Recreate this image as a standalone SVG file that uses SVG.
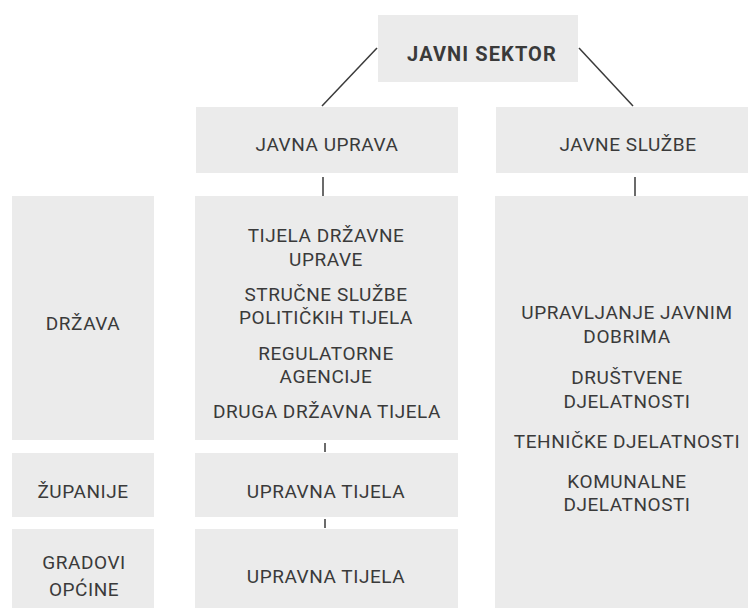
<svg xmlns="http://www.w3.org/2000/svg" width="750" height="608" viewBox="0 0 750 608">
<style>
rect.box{fill:#ebebeb}
text{font-family:Roboto,"Liberation Sans",sans-serif;font-size:19px;letter-spacing:0.55px;fill:#3a3a3a;text-anchor:middle}
text.b{font-weight:bold;font-size:20px;letter-spacing:1.1px}
.conn line{stroke:#3a3a3a;stroke-width:1.5}
</style>
<rect width="750" height="608" fill="#ffffff"/>
<g class="conn" id="connectors">
<line x1="377" y1="48" x2="322" y2="106"/>
<line x1="579" y1="48" x2="633" y2="106"/>
<line x1="323" y1="177" x2="323" y2="197"/>
<line x1="635" y1="177" x2="635" y2="197"/>
<line x1="325" y1="443" x2="325" y2="452"/>
<line x1="325" y1="519" x2="325" y2="528"/>
</g>
<g id="javni-sektor"><rect class="box" x="378" y="15" width="200" height="67"/><text class="b" x="482" y="61">JAVNI SEKTOR</text></g>
<g id="javna-uprava"><rect class="box" x="196" y="107" width="262" height="66"/><text x="327" y="151">JAVNA UPRAVA</text></g>
<g id="javne-sluzbe"><rect class="box" x="496" y="107" width="252" height="66"/><text x="628" y="151">JAVNE SLUŽBE</text></g>
<g id="drzava"><rect class="box" x="12" y="196" width="142" height="244"/><text x="83" y="330">DRŽAVA</text></g>
<g id="drzava-tijela"><rect class="box" x="195" y="196" width="263" height="244"/>
<text x="326" y="242">TIJELA DRŽAVNE</text>
<text x="326" y="266">UPRAVE</text>
<text x="326" y="301">STRUČNE SLUŽBE</text>
<text x="326" y="324">POLITIČKIH TIJELA</text>
<text x="326" y="360">REGULATORNE</text>
<text x="326" y="383">AGENCIJE</text>
<text x="327" y="418">DRUGA DRŽAVNA TIJELA</text>
</g>
<g id="javne-sluzbe-list"><rect class="box" x="495" y="196" width="253" height="412"/>
<text x="627" y="319">UPRAVLJANJE JAVNIM</text>
<text x="627" y="343">DOBRIMA</text>
<text x="627" y="384">DRUŠTVENE</text>
<text x="627" y="408">DJELATNOSTI</text>
<text x="627" y="448">TEHNIČKE DJELATNOSTI</text>
<text x="627" y="488">KOMUNALNE</text>
<text x="627" y="511">DJELATNOSTI</text>
</g>
<g id="zupanije"><rect class="box" x="12" y="453" width="142" height="64"/><text x="83" y="498">ŽUPANIJE</text></g>
<g id="zupanije-tijela"><rect class="box" x="195" y="453" width="263" height="64"/><text x="326" y="498">UPRAVNA TIJELA</text></g>
<g id="gradovi"><rect class="box" x="12" y="529" width="142" height="79"/><text x="84" y="569">GRADOVI</text><text x="84" y="596">OPĆINE</text></g>
<g id="gradovi-tijela"><rect class="box" x="195" y="529" width="263" height="79"/><text x="326" y="583">UPRAVNA TIJELA</text></g>
</svg>
